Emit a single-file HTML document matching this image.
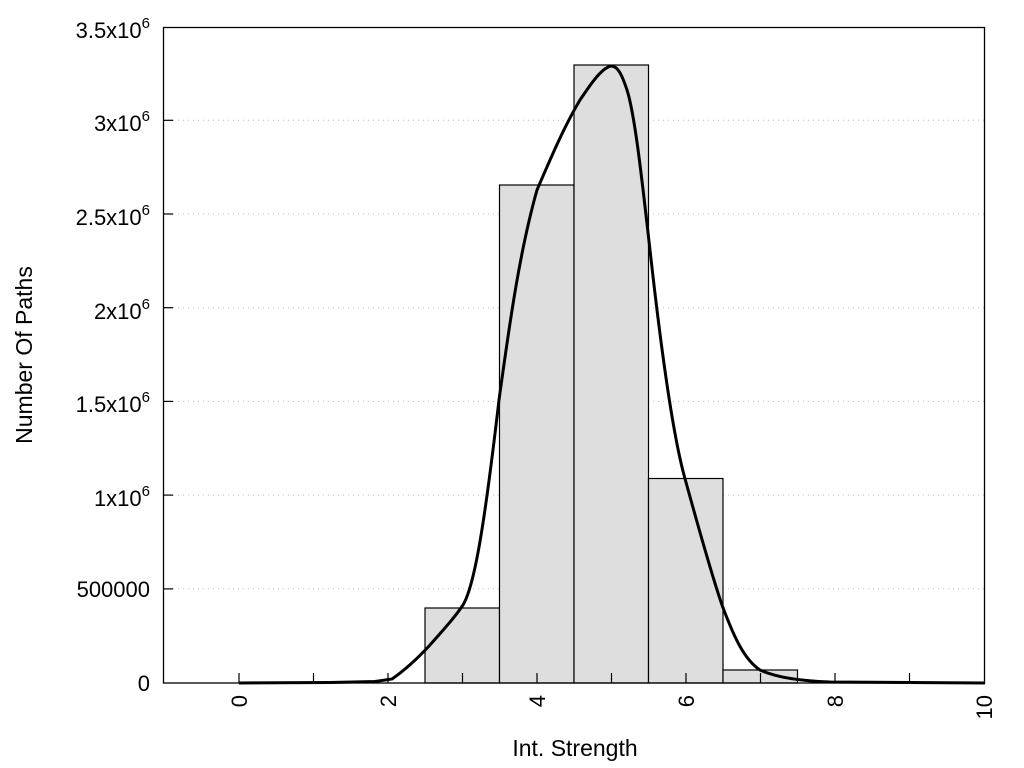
<!DOCTYPE html>
<html><head><meta charset="utf-8"><style>
body{margin:0;background:#fff}
svg{display:block}
text{font-family:"Liberation Sans",Arial,sans-serif;fill:#000}
</style></head><body>
<svg width="1024" height="768" viewBox="0 0 1024 768">
<g stroke="#bbb" stroke-width="1" stroke-dasharray="1,4">
<line x1="163" y1="120.3" x2="985" y2="120.3"/>
<line x1="163" y1="214" x2="985" y2="214"/>
<line x1="163" y1="307.7" x2="985" y2="307.7"/>
<line x1="163" y1="401.4" x2="985" y2="401.4"/>
<line x1="163" y1="495.1" x2="985" y2="495.1"/>
<line x1="163" y1="588.9" x2="985" y2="588.9"/>
</g>
<g fill="#dedede" stroke="#000" stroke-width="1.2">
<rect x="425" y="608" width="74.5" height="75"/>
<rect x="499.5" y="185" width="74.5" height="498"/>
<rect x="574" y="65" width="74.5" height="618"/>
<rect x="648.5" y="478.5" width="74.5" height="204.5"/>
<rect x="723" y="670" width="74.5" height="13"/>
</g>
<rect x="163.5" y="27.5" width="821" height="655.5" fill="none" stroke="#000" stroke-width="1.3"/>
<g stroke="#000" stroke-width="1.2">
<line x1="239" y1="683" x2="239" y2="673"/><line x1="313.5" y1="683" x2="313.5" y2="673"/>
<line x1="388" y1="683" x2="388" y2="673"/><line x1="462.5" y1="683" x2="462.5" y2="673"/>
<line x1="537" y1="683" x2="537" y2="673"/><line x1="611.5" y1="683" x2="611.5" y2="673"/>
<line x1="686" y1="683" x2="686" y2="673"/><line x1="760.5" y1="683" x2="760.5" y2="673"/>
<line x1="835" y1="683" x2="835" y2="673"/><line x1="909.5" y1="683" x2="909.5" y2="673"/>
<line x1="163" y1="120.3" x2="173" y2="120.3"/><line x1="163" y1="214" x2="173" y2="214"/>
<line x1="163" y1="307.7" x2="173" y2="307.7"/><line x1="163" y1="401.4" x2="173" y2="401.4"/>
<line x1="163" y1="495.1" x2="173" y2="495.1"/><line x1="163" y1="588.9" x2="173" y2="588.9"/>
</g>
<path d="M239,683 L330,682.5 L375,681.5 L392,679 C405,670 418,658 430,645 C445,628 455,617 463,605 C475,585 485,520 499,400 C510,320 520,250 537,190 C552,155 565,125 580,100 C592,82 602,68 611,66 C618,66 622,75 627,90 C635,115 642,180 650,250 C660,340 672,430 684,475 C695,515 710,570 722,605 C735,640 745,660 760,670 C775,677 800,681 830,682 L985,683" fill="none" stroke="#000" stroke-width="3"/>
<g font-size="22" text-anchor="end">
<text x="150" y="38">3.5x10<tspan font-size="15" dy="-10">6</tspan></text>
<text x="150" y="131">3x10<tspan font-size="15" dy="-10">6</tspan></text>
<text x="150" y="225">2.5x10<tspan font-size="15" dy="-10">6</tspan></text>
<text x="150" y="319">2x10<tspan font-size="15" dy="-10">6</tspan></text>
<text x="150" y="412">1.5x10<tspan font-size="15" dy="-10">6</tspan></text>
<text x="150" y="506">1x10<tspan font-size="15" dy="-10">6</tspan></text>
<text x="150" y="597">500000</text>
<text x="150" y="691">0</text>
</g>
<g font-size="22" text-anchor="end">
<text transform="translate(247,695) rotate(-90)">0</text>
<text transform="translate(396,695) rotate(-90)">2</text>
<text transform="translate(545,695) rotate(-90)">4</text>
<text transform="translate(694,695) rotate(-90)">6</text>
<text transform="translate(843,695) rotate(-90)">8</text>
<text transform="translate(992,695) rotate(-90)">10</text>
</g>
<text x="575" y="756" font-size="23" text-anchor="middle">Int. Strength</text>
<text transform="translate(32,355) rotate(-90)" font-size="23" text-anchor="middle">Number Of Paths</text>
</svg>
</body></html>
